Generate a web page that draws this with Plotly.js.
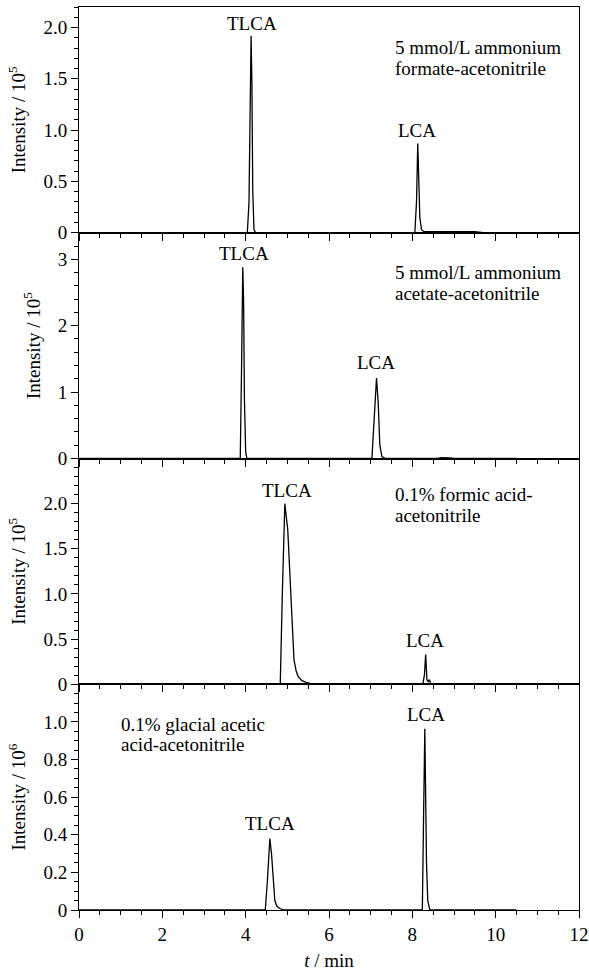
<!DOCTYPE html>
<html>
<head>
<meta charset="utf-8">
<script src="https://cdn.plot.ly/plotly-3.0.1.min.js"></script>
<style>
html,body{margin:0;padding:0;background:#fff;}
#chart{width:589px;height:971px;}
</style>
</head>
<body>
<div id="chart"></div>
<script>
// Panel 1: 5 mmol/L ammonium formate-acetonitrile (intensity x10^5)
const t1 = [0, 4.04, 4.08, 4.11, 4.13, 4.15, 4.17, 4.20, 4.24, 8.06, 8.10, 8.13, 8.15, 8.18, 8.22, 8.28, 8.6, 9.0, 9.5, 9.7, 10.5];
const y1 = [0, 0, 0.3, 1.35, 1.92, 1.45, 0.4, 0.03, 0, 0, 0.3, 0.87, 0.6, 0.15, 0.03, 0.01, 0.01, 0.012, 0.01, 0, 0];
// Panel 2: 5 mmol/L ammonium acetate-acetonitrile (x10^5)
const t2 = [0, 3.87, 3.90, 3.93, 3.95, 3.97, 4.00, 4.03, 7.03, 7.08, 7.14, 7.18, 7.22, 7.27, 7.35, 8.6, 8.7, 8.9, 9.0, 10.5];
const y2 = [0, 0, 1.3, 2.88, 2.4, 0.9, 0.1, 0, 0, 0.5, 1.21, 0.85, 0.2, 0.03, 0, 0, 0.012, 0.01, 0, 0];
// Panel 3: 0.1% formic acid-acetonitrile (x10^5)
const t3 = [0, 4.83, 4.88, 4.94, 5.01, 5.10, 5.16, 5.21, 5.26, 5.35, 5.45, 5.55, 5.7, 8.25, 8.29, 8.32, 8.35, 8.38, 8.41, 8.44, 8.5, 10.5];
const y3 = [0, 0, 1.0, 2.0, 1.71, 0.79, 0.27, 0.15, 0.085, 0.04, 0.02, 0.01, 0, 0, 0.1, 0.33, 0.05, 0.03, 0.05, 0.01, 0, 0];
// Panel 4: 0.1% glacial acetic acid-acetonitrile (x10^6)
const t4 = [0, 4.47, 4.52, 4.58, 4.62, 4.66, 4.70, 4.75, 4.82, 4.92, 8.24, 8.27, 8.30, 8.32, 8.34, 8.37, 8.42, 10.5];
const y4 = [0, 0, 0.15, 0.38, 0.3, 0.16, 0.05, 0.02, 0.008, 0, 0, 0.5, 0.963, 0.6, 0.25, 0.05, 0, 0];

const conditionLines = [
  ["5 mmol/L ammonium", "formate-acetonitrile"],
  ["5 mmol/L ammonium", "acetate-acetonitrile"],
  ["0.1% formic acid-", "acetonitrile"],
  ["0.1% glacial acetic", "acid-acetonitrile"]
];
const exponents = ["5", "5", "5", "6"];
const yRanges = [[0, 2.2], [0, 3.4], [0, 2.5], [0, 1.2]];
const yTickVals = [[0, 0.5, 1.0, 1.5, 2.0], [0, 1, 2, 3], [0, 0.5, 1.0, 1.5, 2.0], [0, 0.2, 0.4, 0.6, 0.8, 1.0]];
const yTickText = [["0", "0.5", "1.0", "1.5", "2.0"], ["0", "1", "2", "3"], ["0", "0.5", "1.0", "1.5", "2.0"], ["0", "0.2", "0.4", "0.6", "0.8", "1.0"]];
const yMinor = [0.1, 0.2, 0.1, 0.05];
const xTickVals = [0, 2, 4, 6, 8, 10, 12];

const font = {family: "Liberation Serif", size: 19, color: "#000"};
const f = () => Object.assign({}, font);
const ts = [t1, t2, t3, t4];
const ys = [y1, y2, y3, y4];

const data = ts.map((t, i) => ({
  x: t, y: ys[i], type: "scatter", mode: "lines",
  xaxis: i === 0 ? "x" : "x" + (i + 1), yaxis: i === 0 ? "y" : "y" + (i + 1),
  line: {color: "#000", width: 1.3}, showlegend: false, hoverinfo: "skip"
}));

const layout = {
  width: 589, height: 971,
  margin: {l: 79, r: 10, t: 7, b: 61},
  paper_bgcolor: "#fff", plot_bgcolor: "#fff",
  font: f(), showlegend: false, annotations: []
};

for (let i = 0; i < 4; i++) {
  const k = i === 0 ? "" : String(i + 1);
  const top = 1 - i * 0.25, bot = 1 - (i + 1) * 0.25;
  const xa = {
    range: [0, 12], anchor: "y" + k, domain: [0, 1],
    tickvals: xTickVals, ticks: "outside", ticklen: 7, tickwidth: 1, tickcolor: "#000",
    showticklabels: i === 3, tickfont: f(),
    minor: {dtick: 0.5, ticks: "outside", ticklen: 4, tickcolor: "#000"},
    showline: true, linecolor: "#000", linewidth: 1, mirror: true,
    showgrid: false, zeroline: false
  };
  if (i === 3) xa.title = {text: "<i>t</i> / min", font: f(), standoff: 11};
  if (i > 0) xa.matches = "x";
  layout["xaxis" + k] = xa;
  layout["yaxis" + k] = {
    range: yRanges[i], domain: [bot, top], anchor: "x" + k,
    tickvals: yTickVals[i], ticktext: yTickText[i],
    ticks: "outside", ticklen: 7, tickwidth: 1, tickcolor: "#000", tickfont: f(),
    minor: {dtick: yMinor[i], ticks: "outside", ticklen: 4, tickcolor: "#000"},
    showline: true, linecolor: "#000", linewidth: 1, mirror: true,
    showgrid: false, zeroline: false,
    title: {text: "Intensity / 10<sup>" + exponents[i] + "</sup>", font: f(), standoff: 12}
  };
}

function ann(i, x, y, text, xanchor) {
  const k = i === 0 ? "" : String(i + 1);
  layout.annotations.push({
    xref: "x" + k, yref: "y" + k, x: x, y: y, text: text, showarrow: false,
    xanchor: xanchor || "center", yanchor: "middle", align: "left", font: f()
  });
}
// peak labels
ann(0, 4.15, 2.04, "TLCA"); ann(0, 8.12, 1.0, "LCA");
ann(1, 3.96, 3.09, "TLCA"); ann(1, 7.13, 1.44, "LCA");
ann(2, 4.99, 2.15, "TLCA"); ann(2, 8.31, 0.49, "LCA");
ann(3, 4.58, 0.458, "TLCA"); ann(3, 8.33, 1.04, "LCA");
// condition labels (two lines each)
ann(0, 7.54, 1.81, conditionLines[0][0], "left"); ann(0, 7.54, 1.60, conditionLines[0][1], "left");
ann(1, 7.54, 2.80, conditionLines[1][0], "left"); ann(1, 7.54, 2.49, conditionLines[1][1], "left");
ann(2, 7.54, 2.10, conditionLines[2][0], "left"); ann(2, 7.54, 1.87, conditionLines[2][1], "left");
ann(3, 0.96, 0.986, conditionLines[3][0], "left"); ann(3, 0.96, 0.879, conditionLines[3][1], "left");

Plotly.newPlot("chart", data, layout, {staticPlot: true, displayModeBar: false});
</script>
</body>
</html>
